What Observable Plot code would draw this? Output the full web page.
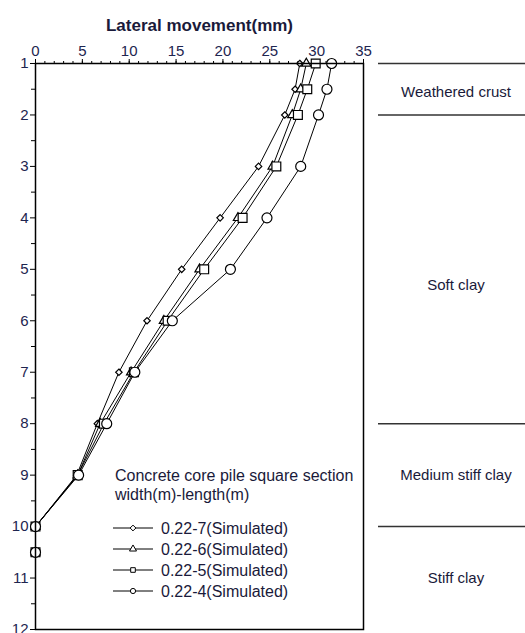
<!DOCTYPE html>
<html>
<head>
<meta charset="utf-8">
<script src="https://cdn.jsdelivr.net/npm/d3@7"></script>
<script src="https://cdn.jsdelivr.net/npm/@observablehq/plot@0.6"></script>
<style>
  html, body { margin: 0; padding: 0; background: #fff; }
  #wrap { position: relative; width: 525px; height: 633px; display: flex; font-family: "Liberation Sans", Arial, sans-serif; }
  #wrap svg { display: block; }
  #legend { position: absolute; left: 0; top: 0; pointer-events: none; }
</style>
</head>
<body>
<div id="wrap"></div>
<script>
// ---- data ----
const depths = [1, 1.5, 2, 3, 4, 5, 6, 7, 8, 9, 10, 10.5];
const seriesNames = ["0.22-7(Simulated)", "0.22-6(Simulated)", "0.22-5(Simulated)", "0.22-4(Simulated)"];
const seriesSymbols = ["diamond2", "triangle", "square", "circle"];
const v07 = [28.2, 27.7, 26.6, 23.8, 19.7, 15.6, 11.9, 8.9, 6.6, 4.4, 0, 0];
const v06 = [28.9, 28.3, 27.4, 25.3, 21.6, 17.5, 13.7, 10.2, 6.9, 4.5, 0, 0];
const v05 = [29.9, 29.0, 28.0, 25.7, 22.1, 18.0, 14.1, 10.5, 7.3, 4.5, 0, 0];
const v04 = [31.6, 31.1, 30.2, 28.3, 24.7, 20.8, 14.6, 10.6, 7.6, 4.6, 0, 0];
const xMajorTicks = [0, 5, 10, 15, 20, 25, 30, 35];
const yMajorTicks = [1, 2, 3, 4, 5, 6, 7, 8, 9, 10, 11, 12];
const xTitle = "Lateral movement(mm)";
const legendTitle = ["Concrete core pile square section", "width(m)-length(m)"];
const layerBounds = [1, 2, 8, 10];
const layerNames = ["Weathered crust", "Soft clay", "Medium stiff clay", "Stiff clay"];
const layerLabelDepths = [1.55, 5.3, 9.0, 11.0];

// ---- build ----
const seriesValues = [v07, v06, v05, v04];
const symbolR = [2.9, 3.4, 5.0, 5.0];
const txtColor = "#1e2550";
const font = "'Liberation Sans', Arial, sans-serif";

const marks = [];
seriesValues.forEach((vals, k) => {
  const rows = depths.map((d, i) => ({depth: d, mm: vals[i]}));
  marks.push(Plot.line(rows, {x: "mm", y: "depth", stroke: "black", strokeWidth: 1}));
  marks.push(Plot.dot(rows, {x: "mm", y: "depth", symbol: seriesSymbols[k], r: symbolR[k], fill: "white", stroke: "black", strokeWidth: 1.2}));
});

const main = Plot.plot({
  width: 378,
  height: 633,
  marginLeft: 35,
  marginRight: 15,
  marginTop: 63,
  marginBottom: 4,
  style: {fontFamily: font, background: "white", overflow: "visible"},
  x: {domain: [0, 35]},
  y: {domain: [1, 12], reverse: true},
  marks: [
    Plot.axisX({anchor: "top", ticks: d3.range(0, 36, 1), tickSize: 3, tickFormat: () => "", label: null, stroke: "black"}),
    Plot.axisX({anchor: "top", ticks: xMajorTicks, tickSize: 5, tickPadding: 3, fontSize: 15, label: null, stroke: "black", fill: txtColor}),
    Plot.axisY({anchor: "left", ticks: d3.range(1.5, 12, 1), tickSize: 4, tickFormat: () => "", label: null, stroke: "black"}),
    Plot.axisY({anchor: "left", ticks: yMajorTicks, tickSize: 5, tickPadding: 2, fontSize: 15, label: null, stroke: "black", fill: txtColor}),
    ...marks,
    Plot.frame({stroke: "black", strokeWidth: 1.5}),
    Plot.text([xTitle], {text: d => d, frameAnchor: "top", dy: -45, fontSize: 17, fontWeight: "bold", fill: "#1a1a3a"})
  ]
});

const layerRows = layerNames.map((n, i) => ({name: n, depth: layerLabelDepths[i]}));
const side = Plot.plot({
  width: 147,
  height: 633,
  marginLeft: 0,
  marginRight: 0,
  marginTop: 63,
  marginBottom: 4,
  style: {fontFamily: font, background: "white"},
  x: {domain: [0, 1], axis: null},
  y: {domain: [1, 12], reverse: true, axis: null},
  marks: [
    Plot.ruleY(layerBounds, {stroke: "#333", strokeWidth: 1.5}),
    Plot.text(layerRows, {y: "depth", text: "name", frameAnchor: "middle", dx: 4, fontSize: 15, fill: "#1a1a3a"})
  ]
});

const wrap = document.getElementById("wrap");
wrap.appendChild(main);
wrap.appendChild(side);

// ---- legend (inside plot frame) ----
const lg = d3.select(wrap).append("svg")
  .attr("id", "legend").attr("width", 378).attr("height", 633)
  .style("font-family", font);
legendTitle.forEach((t, i) => {
  lg.append("text").attr("x", 115).attr("y", 475 + i * 19).attr("dy", "0.35em")
    .attr("font-size", 16).attr("fill", "#1a1a3a").text(t);
});
const symMap = {diamond2: d3.symbolDiamond2, triangle: d3.symbolTriangle, square: d3.symbolSquare, circle: d3.symbolCircle};
seriesNames.forEach((name, k) => {
  const y = 528 + k * 21;
  const g = lg.append("g");
  g.append("line").attr("x1", 113).attr("x2", 153).attr("y1", y).attr("y2", y).attr("stroke", "black").attr("stroke-width", 1);
  g.append("path").attr("transform", `translate(133,${y})`)
    .attr("d", d3.symbol(symMap[seriesSymbols[k]], Math.PI * 2.6 * 2.6)())
    .attr("fill", "white").attr("stroke", "black").attr("stroke-width", 1);
  g.append("text").attr("x", 161).attr("y", y).attr("dy", "0.35em")
    .attr("font-size", 16).attr("fill", "#1a1a3a").text(name);
});
</script>
</body>
</html>
